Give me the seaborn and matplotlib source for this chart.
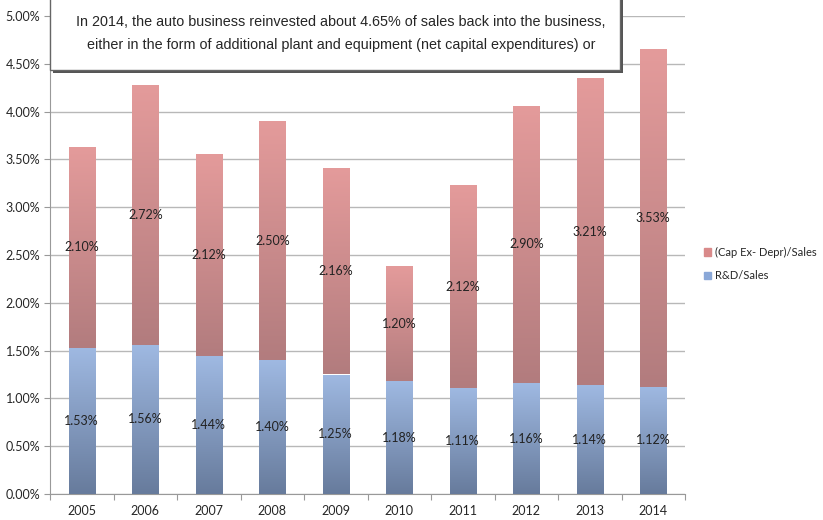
import numpy as np
import pandas as pd
import matplotlib
matplotlib.use("Agg")
import matplotlib.pyplot as plt
import matplotlib.patches as mpatches
from matplotlib.colors import LinearSegmentedColormap
import seaborn as sns

# 1. Data (percent of sales)
years = ["2005", "2006", "2007", "2008", "2009", "2010", "2011", "2012", "2013", "2014"]
rd_sales = [1.53, 1.56, 1.44, 1.40, 1.25, 1.18, 1.11, 1.16, 1.14, 1.12]
capex_sales = [2.10, 2.72, 2.12, 2.50, 2.16, 1.20, 2.12, 2.90, 3.21, 3.53]
series_names = ["(Cap Ex- Depr)/Sales", "R&D/Sales"]
note_lines = ["In 2014, the auto business reinvested about 4.65% of sales back into the business,",
              "either in the form of additional plant and equipment (net capital expenditures) or"]

df = pd.DataFrame({"Year": years, "RD": rd_sales, "CapEx": capex_sales})
df["Total"] = df["RD"] + df["CapEx"]

# 2. Style
sns.set_style("white")
plt.rcParams["font.family"] = ["Lato", "DejaVu Sans"]

fig = plt.figure(figsize=(8.23, 5.2), dpi=100)
ax = fig.add_axes([50 / 823, 26 / 520, 635 / 823, 478 / 520])

bar_w = 0.41
sns.barplot(data=df, x="Year", y="Total", color="#d98a8a", width=bar_w, ax=ax,
            saturation=1, errorbar=None, zorder=2)
n_red = len(ax.patches)
sns.barplot(data=df, x="Year", y="RD", color="#8aa8d8", width=bar_w, ax=ax,
            saturation=1, errorbar=None, zorder=3)

# 3. Gradient fill for each segment
red_cmap = LinearSegmentedColormap.from_list("red", ["#b27c7e", "#e49b9b"])
blue_cmap = LinearSegmentedColormap.from_list("blue", ["#677b9c", "#9fb9e2"])
grad = np.linspace(0, 1, 256).reshape(-1, 1)

for i, p in enumerate(ax.patches):
    x0 = p.get_x()
    x1 = x0 + p.get_width()
    top = p.get_y() + p.get_height()
    if i < n_red:
        bottom = df["RD"].iloc[i]
        cmap = red_cmap
        z = 2
    else:
        bottom = 0
        cmap = blue_cmap
        z = 3
    p.set_facecolor("none")
    p.set_edgecolor("none")
    im = ax.imshow(grad, cmap=cmap, origin="lower", aspect="auto",
                   extent=(x0, x1, bottom, top), zorder=z)
    im.set_clip_path(p)

# 4. Value labels in the middle of each segment
for i in range(len(df)):
    rd = df["RD"].iloc[i]
    cx = df["CapEx"].iloc[i]
    ax.text(i, rd / 2, f"{rd:.2f}%", ha="center", va="center", fontsize=9,
            color="#222222", zorder=5)
    ax.text(i, rd + cx / 2, f"{cx:.2f}%", ha="center", va="center", fontsize=9,
            color="#222222", zorder=5)

# 5. Axes
ax.set_xlim(-0.5, len(years) - 0.5)
ax.set_ylim(0, 5)
ax.set_yticks(np.arange(0, 5.01, 0.5))
ax.set_yticklabels([f"{v:.2f}%" for v in np.arange(0, 5.01, 0.5)], fontsize=9)
ax.set_xlabel("")
ax.set_ylabel("")
ax.tick_params(axis="x", length=0, labelsize=9, pad=8)
ax.tick_params(axis="y", length=4, width=0.8, color="#999999", direction="out", left=True, pad=3)
ax.set_xticks(np.arange(-0.5, len(years), 1.0), minor=True)
ax.tick_params(axis="x", which="minor", length=4, width=0.8, color="#999999", direction="out", bottom=True)
ax.grid(axis="y", color="#b8b8b8", linewidth=1, zorder=0)
ax.set_axisbelow(True)
for s in ["top", "right"]:
    ax.spines[s].set_visible(False)
for s in ["left", "bottom"]:
    ax.spines[s].set_color("#999999")
    ax.spines[s].set_linewidth(0.8)

# 6. Legend
handles = [mpatches.Patch(color="#d98a8a", label=series_names[0]),
           mpatches.Patch(color="#8aa8d8", label=series_names[1])]
fig.legend(handles=handles, loc="center left", bbox_to_anchor=(694 / 823, 1 - 264 / 520),
           frameon=False, fontsize=8, handlelength=0.6, handleheight=0.6,
           handletextpad=0.35, labelspacing=1.1)

# 7. Text box with shadow at the top
bx0, bx1 = 50 / 823, 620 / 823
by0, by1 = 1 - 70 / 520, 1.05
shadow = mpatches.Rectangle((bx0 + 3 / 823, by0 - 3 / 520), bx1 - bx0, by1 - by0,
                            transform=fig.transFigure, facecolor="#555555", edgecolor="none",
                            zorder=10)
box = mpatches.Rectangle((bx0, by0), bx1 - bx0, by1 - by0, transform=fig.transFigure,
                         facecolor="white", edgecolor="#666666", linewidth=1, zorder=11)
fig.patches.extend([shadow, box])
fig.text(341 / 823, 1 - 22 / 520, note_lines[0], ha="center", va="center", fontsize=10.4,
         family="Liberation Sans", zorder=12)
fig.text(341 / 823, 1 - 45 / 520, note_lines[1], ha="center", va="center", fontsize=10.4,
         family="Liberation Sans", zorder=12)

plt.savefig("out.png", dpi=100)
